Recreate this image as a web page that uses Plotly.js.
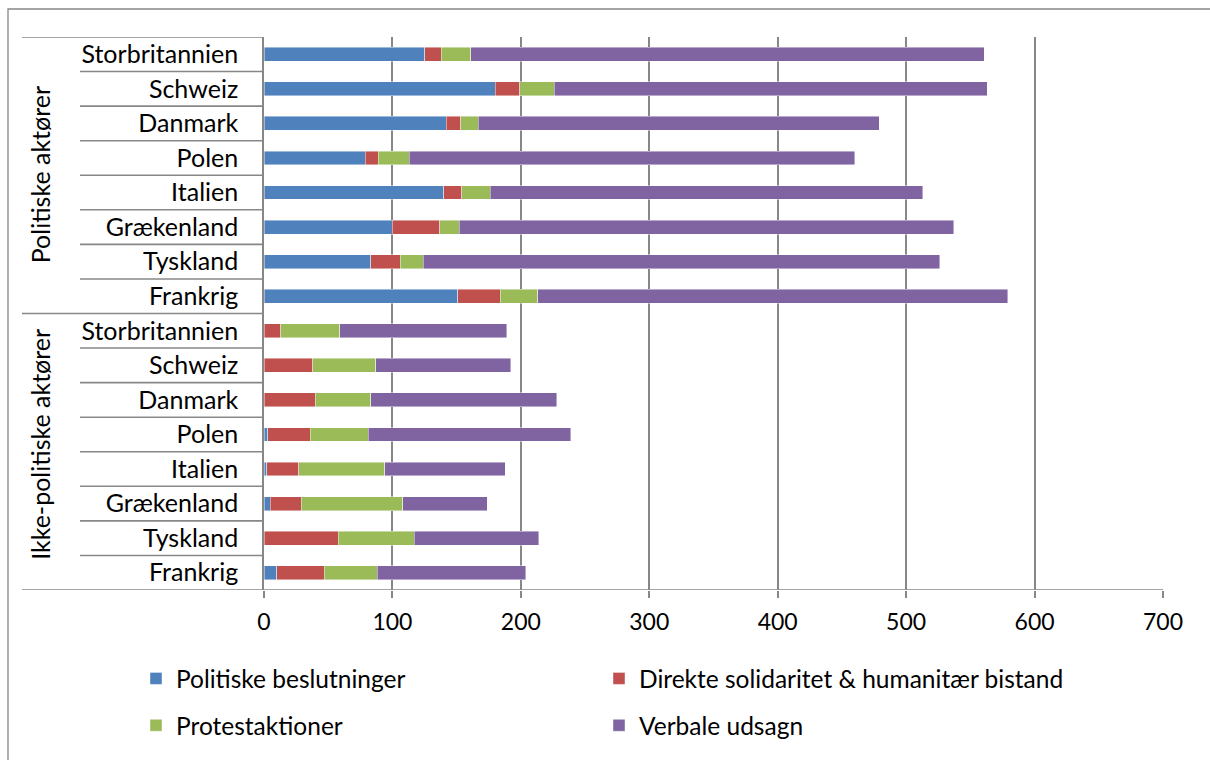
<!DOCTYPE html>
<html>
<head>
<meta charset="utf-8">
<script src="https://cdn.plot.ly/plotly-3.0.1.min.js"></script>
<style>
  html, body { margin: 0; padding: 0; background: #fff; }
  #chart { width: 1210px; height: 760px; }
</style>
</head>
<body>
<div id="chart"></div>
<script>
// ---- Data (rows listed top to bottom) ----
const groups = ['Politiske aktører', 'Ikke-politiske aktører'];
const countries = ['Storbritannien', 'Schweiz', 'Danmark', 'Polen', 'Italien', 'Grækenland', 'Tyskland', 'Frankrig'];
const seriesNames = ['Politiske beslutninger', 'Direkte solidaritet & humanitær bistand', 'Protestaktioner', 'Verbale udsagn'];

// first 8 values: Politiske aktører, last 8: Ikke-politiske aktører
const beslutninger = [125, 180, 142, 79, 140, 100, 83, 151,   0, 0, 0, 3, 2, 5, 0, 10];
const solidaritet  = [13, 19, 11, 10, 14, 37, 23, 33,         13, 38, 40, 33, 25, 24, 58, 37];
const protest      = [23, 27, 14, 24, 22, 15, 18, 29,         46, 49, 43, 45, 67, 79, 59, 41];
const verbale      = [400, 337, 312, 347, 337, 385, 402, 366, 130, 105, 145, 158, 94, 66, 97, 116];

const colors = ['#4F81BD', '#C0504D', '#9BBB59', '#8064A2'];
const FONT = 'Lato, "Open Sans", sans-serif';

// ---- Layout geometry ----
const W = 1210, H = 760;
const M = { l: 264, r: 47, t: 37, b: 170 };
const PW = W - M.l - M.r, PH = H - M.t - M.b;
const px2paperX = px => (px - M.l) / PW;
const px2paperY = py => (H - M.b - py) / PH;

const tickLabels = countries.concat(countries);
const rowPos = tickLabels.map((_, i) => i);

const values = [beslutninger, solidaritet, protest, verbale];
const legendIds = ['legend', 'legend2', 'legend', 'legend2'];
const traces = values.map((v, k) => ({
  type: 'bar',
  orientation: 'h',
  name: seriesNames[k],
  x: v,
  y: rowPos,
  width: 0.4,
  marker: { color: colors[k], line: { color: 'rgba(255,255,255,0.55)', width: 0.8 } },
  legend: legendIds[k],
  legendgroup: 'g' + k,
  hoverinfo: 'x+name'
}));

const gridGray = '#878787';
const shapes = [];
// category separators
const nRows = tickLabels.length;
for (let b = 0; b <= nRows; b++) {
  const yb = b - 0.5;
  const isGroupEdge = (b === 0 || b === countries.length || b === nRows);
  shapes.push({
    type: 'line', xref: 'paper', yref: 'y',
    x0: px2paperX(isGroupEdge ? 22 : 80), x1: b === nRows ? 1 : 0,
    y0: yb, y1: yb,
    line: { color: gridGray, width: 1.6 }
  });
}
// chart-area border
shapes.push({
  type: 'rect', xref: 'paper', yref: 'paper',
  x0: px2paperX(8), x1: px2paperX(1240),
  y0: px2paperY(9), y1: px2paperY(800),
  line: { color: gridGray, width: 1.3 }, fillcolor: 'rgba(0,0,0,0)'
});

const annotations = groups.map((g, gi) => ({
  text: g, textangle: -90, showarrow: false,
  xref: 'paper', yref: 'y',
  x: px2paperX(40), y: gi === 0 ? 3.5 : 11.3,
  xanchor: 'center', yanchor: 'middle',
  font: { family: FONT, size: 25, color: '#000' }
}));

const legendCommon = {
  xanchor: 'left', yanchor: 'top',
  orientation: 'v', tracegroupgap: 12, traceorder: 'grouped',
  font: { family: FONT, size: 24.5, color: '#000' }, bgcolor: 'rgba(0,0,0,0)'
};

const layout = {
  width: W, height: H,
  margin: M,
  paper_bgcolor: '#fff', plot_bgcolor: '#fff',
  barmode: 'stack',
  font: { family: FONT, color: '#000' },
  xaxis: {
    range: [0, 700], dtick: 100, tick0: 0,
    showgrid: true, gridcolor: gridGray, gridwidth: 2,
    zeroline: false, showline: false,
    ticks: 'outside', ticklen: 7, tickcolor: gridGray, tickwidth: 1.5,
    ticklabelstandoff: 4,
    tickfont: { family: FONT, size: 23, color: '#000' },
    fixedrange: true
  },
  yaxis: {
    range: [nRows - 0.5, -0.5],
    tickmode: 'array', tickvals: rowPos, ticktext: tickLabels,
    showgrid: false, zeroline: false,
    showline: true, linecolor: gridGray, linewidth: 1.6,
    ticks: '', ticklabelstandoff: 19,
    tickfont: { family: FONT, size: 25, color: '#000' },
    fixedrange: true
  },
  shapes: shapes,
  annotations: annotations,
  showlegend: true,
  legend: Object.assign({ x: px2paperX(136), y: px2paperY(656) }, legendCommon),
  legend2: Object.assign({ x: px2paperX(599), y: px2paperY(656) }, legendCommon)
};

Plotly.newPlot('chart', traces, layout, { displayModeBar: false, staticPlot: false });
</script>
</body>
</html>
